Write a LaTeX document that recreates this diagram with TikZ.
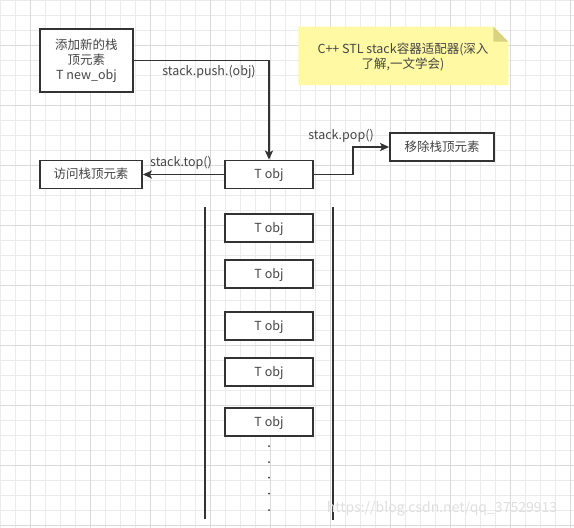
\documentclass[tikz,border=0pt]{standalone}
\usepackage{fontspec}
\setmainfont{Noto Sans CJK SC}
\usetikzlibrary{arrows.meta,positioning,calc}
\definecolor{gridminor}{HTML}{EBEBEB}
\definecolor{gridmajor}{HTML}{DADADA}
\definecolor{ink}{HTML}{333333}
\definecolor{txt}{HTML}{454545}
\definecolor{notefill}{HTML}{FFF9A3}
\definecolor{notefold}{HTML}{D9D37F}
\tikzset{
  box/.style={draw=ink, line width=1.8pt, fill=white, text=txt, font=\fontsize{12.5}{15}\selectfont, inner sep=0pt, align=center},
  onebox/.style={box, text height=11pt, text depth=3pt},
  lbl/.style={text=txt, font=\fontsize{12.5}{15}\selectfont, inner sep=0pt},
  conn/.style={draw=ink, line width=1.8pt, -{Stealth[length=9pt,width=8pt,inset=2pt]}},
  wall/.style={draw=ink, line width=1.8pt},
}
\begin{document}
\begin{tikzpicture}[x=1pt,y=-1pt]
\useasboundingbox (0,0) rectangle (574,528);
\fill[white] (0,0) rectangle (574,528);
% grid
\foreach \i in {0,...,38} {
  \draw[gridminor, line width=0.8pt] ({0.7+15*\i},0) -- ({0.7+15*\i},528);
}
\foreach \i in {0,...,35} {
  \draw[gridminor, line width=0.8pt] (0,{0.3+15*\i}) -- (574,{0.3+15*\i});
}
\foreach \i in {0,...,9} {
  \draw[gridmajor, line width=0.8pt] ({30.7+60*\i},0) -- ({30.7+60*\i},528);
}
\foreach \i in {-1,...,8} {
  \draw[gridmajor, line width=0.8pt] (0,{45.3+60*\i}) -- (574,{45.3+60*\i});
}
% note
\fill[notefill] (298.3,26.7) -- (493.3,26.7) -- (508.3,41.7) -- (508.3,85) -- (298.3,85) -- cycle;
\fill[notefold] (493.3,26.7) -- (508.3,41.7) -- (493.3,41.7) -- cycle;
\node[lbl, align=center] (note) at (403,57) {C++ STL stack容器适配器(深入\\了解,一文学会)};
% nodes
\node[box, minimum width=93pt, minimum height=63pt] (new) at (86.5,60.5) {添加新的栈\\顶元素\\T new\_obj};
\node[onebox, minimum width=88pt, minimum height=28pt] (top) at (269,174.5) {T obj};
\node[onebox, minimum width=102pt, minimum height=28pt] (visit) at (91,174.5) {访问栈顶元素};
\node[onebox, minimum width=104pt, minimum height=28pt] (pop) at (442,147) {移除栈顶元素};
\node[onebox, minimum width=88pt, minimum height=28pt] (o1) at (269,228) {T obj};
\node[onebox, minimum width=88pt, minimum height=28pt] (o2) at (269,274) {T obj};
\node[onebox, minimum width=88pt, minimum height=28pt] (o3) at (269,326) {T obj};
\node[onebox, minimum width=88pt, minimum height=28pt] (o4) at (269,372) {T obj};
\node[onebox, minimum width=88pt, minimum height=28pt] (o5) at (269,422) {T obj};
% stack walls
\coordinate (wl1) at (205,207);
\coordinate (wl2) at (205,519);
\coordinate (wr1) at (333,207);
\coordinate (wr2) at (333,520);
\draw[wall] (wl1) -- (wl2);
\draw[wall] (wr1) -- (wr2);
% dots
\foreach \y in {446,462,477.5,493.5,510} {
  \fill[ink] (269,\y) circle (1pt);
}
% connectors
\draw[conn] (new.east) -| (top.north);
\node[lbl] (pushlbl) at (209,71.5) {stack.push.(obj)};
\draw[conn] (top.west) -- (visit.east);
\node[lbl] (toplbl) at (181,162.5) {stack.top()};
\draw[conn] (top.east) -- ++(39,0) |- (pop.west);
\node[lbl] (poplbl) at (341,135.5) {stack.pop()};
% watermark
\node[text=gray!25, font=\fontsize{14}{16}\selectfont, inner sep=0pt] (wm) at (442,509) {https://blog.csdn.net/qq\_37529913};
\end{tikzpicture}
\end{document}
